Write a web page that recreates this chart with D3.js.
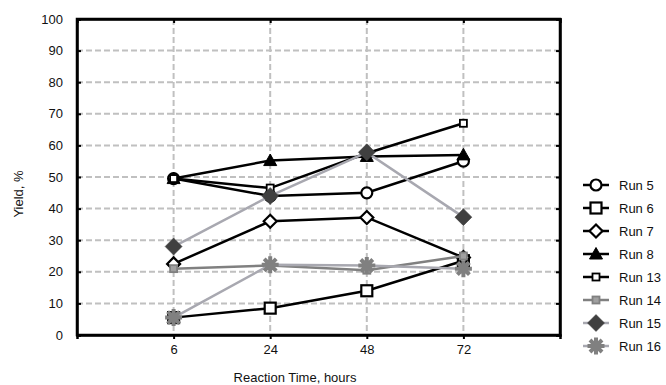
<!DOCTYPE html>
<html>
<head>
<meta charset="utf-8">
<script src="https://cdn.jsdelivr.net/npm/d3@7"></script>
<style>
  body { margin: 0; background: #fff; }
  text { font-family: "Liberation Sans", Arial, sans-serif; fill: #111; }
</style>
</head>
<body>
<div id="container"></div>
<script>
let w = 666;
let h = 385;

// data
let hours = ["6", "24", "48", "72"];
let run5  = [49.5, 44, 45, 55];
let run6  = [5.5, 8.5, 14, 23.5];
let run7  = [22.5, 36, 37.2, 24.5];
let run8  = [49.5, 55.2, 56.5, 57];
let run13 = [49.5, 46.5, 57.5, 67];
let run14 = [21, 22, 20.5, 25];
let run15 = [28, 44, 57.8, 37.3];
let run16 = [5.5, 22.2, 22, 21];
let yTicks = [0, 10, 20, 30, 40, 50, 60, 70, 80, 90, 100];

let series = [
  { name: "Run 5",  values: run5,  shape: "circle",   line: "#000", fill: "#fff", stroke: "#000" },
  { name: "Run 6",  values: run6,  shape: "square",   line: "#000", fill: "#fff", stroke: "#000" },
  { name: "Run 7",  values: run7,  shape: "diamond",  line: "#000", fill: "#fff", stroke: "#000" },
  { name: "Run 8",  values: run8,  shape: "triangle", line: "#000", fill: "#000", stroke: "#000" },
  { name: "Run 13", values: run13, shape: "small",    line: "#000", fill: "#fff", stroke: "#000" },
  { name: "Run 14", values: run14, shape: "small",    line: "#808080", fill: "#a0a0a0", stroke: "#808080" },
  { name: "Run 15", values: run15, shape: "bigdiamond", line: "#a8a8b0", fill: "#404040", stroke: "#404040" },
  { name: "Run 16", values: run16, shape: "star",     line: "#a8a8b0", fill: "#808080", stroke: "#808080" }
];

let viz = d3.select("#container")
  .append("svg")
    .attr("width", w)
    .attr("height", h)
;

let plotLeft = 77, plotRight = 560, plotTop = 19, plotBottom = 335;

let xScale = d3.scaleLinear().domain([0, hours.length + 1]).range([plotLeft, plotRight]);
let yScale = d3.scaleLinear().domain([0, 100]).range([plotBottom, plotTop]);

// grid
let grid = viz.append("g").attr("class", "grid");
grid.selectAll(".hgrid").data(yTicks.filter(d => d > 0 && d < 100)).enter()
  .append("line")
    .attr("x1", plotLeft).attr("x2", plotRight)
    .attr("y1", d => yScale(d)).attr("y2", d => yScale(d))
    .attr("stroke", "#c0c0c0")
    .attr("stroke-width", 2)
    .attr("stroke-dasharray", "6,3")
;
grid.selectAll(".vgrid").data(hours).enter()
  .append("line")
    .attr("x1", (d, i) => xScale(i + 1)).attr("x2", (d, i) => xScale(i + 1))
    .attr("y1", plotTop).attr("y2", plotBottom)
    .attr("stroke", "#c0c0c0")
    .attr("stroke-width", 2)
    .attr("stroke-dasharray", "6,3")
;

// axes
let yAxisGroup = viz.append("g").attr("class", "yaxis")
  .attr("transform", "translate(" + plotLeft + ",0)");
yAxisGroup.call(d3.axisLeft(yScale).tickValues(yTicks).tickSize(-4).tickPadding(14));

let yAxisRight = viz.append("g").attr("class", "yaxis2")
  .attr("transform", "translate(" + plotRight + ",0)");
yAxisRight.call(d3.axisRight(yScale).tickValues(yTicks).tickSize(-4).tickFormat(""));

let xAxisGroup = viz.append("g").attr("class", "xaxis")
  .attr("transform", "translate(0," + plotBottom + ")");
xAxisGroup.call(d3.axisBottom(xScale).tickValues([1, 2, 3, 4]).tickSize(4).tickPadding(6)
  .tickFormat(d => hours[d - 1]));

let xAxisTop = viz.append("g").attr("class", "xaxis2")
  .attr("transform", "translate(0," + plotTop + ")");
xAxisTop.call(d3.axisTop(xScale).tickValues([1, 2, 3, 4]).tickSize(-4).tickFormat(""));

viz.selectAll(".domain").attr("stroke", "#000").attr("stroke-width", 2.5);
viz.selectAll(".tick line").attr("stroke", "#000").attr("stroke-width", 2);
viz.selectAll(".tick text").style("font-size", "13px").attr("fill", "#111");

// frame, so corners close nicely
viz.append("rect")
  .attr("x", plotLeft).attr("y", plotTop)
  .attr("width", plotRight - plotLeft).attr("height", plotBottom - plotTop)
  .attr("fill", "none").attr("stroke", "#000").attr("stroke-width", 2.5);

// labels
viz.append("text")
  .attr("transform", "translate(23,194) rotate(-90)")
  .attr("text-anchor", "middle")
  .style("font-size", "13px")
  .text("Yield, %");

viz.append("text")
  .attr("x", 295).attr("y", 382)
  .attr("text-anchor", "middle")
  .style("font-size", "13px")
  .text("Reaction Time, hours");

// markers
function drawMarker(g, s) {
  if (s.shape === "circle") {
    g.append("circle").attr("r", 5.5).attr("fill", s.fill).attr("stroke", s.stroke).attr("stroke-width", 2.2);
  } else if (s.shape === "square") {
    g.append("rect").attr("x", -5.5).attr("y", -5.5).attr("width", 11).attr("height", 11)
      .attr("fill", s.fill).attr("stroke", s.stroke).attr("stroke-width", 2.2);
  } else if (s.shape === "diamond") {
    g.append("path").attr("d", "M0,-6.5L6.5,0L0,6.5L-6.5,0Z")
      .attr("fill", s.fill).attr("stroke", s.stroke).attr("stroke-width", 2.2);
  } else if (s.shape === "bigdiamond") {
    g.append("path").attr("d", "M0,-8.5L8.5,0L0,8.5L-8.5,0Z")
      .attr("fill", s.fill).attr("stroke", s.stroke).attr("stroke-width", 0.5);
  } else if (s.shape === "triangle") {
    g.append("path").attr("d", "M0,-6.5L6.5,5L-6.5,5Z")
      .attr("fill", s.fill).attr("stroke", s.stroke).attr("stroke-width", 1);
  } else if (s.shape === "small") {
    g.append("rect").attr("x", -3.5).attr("y", -3.5).attr("width", 7).attr("height", 7)
      .attr("fill", s.fill).attr("stroke", s.stroke).attr("stroke-width", 1.8);
  } else if (s.shape === "star") {
    let r = 8.5;
    let d = "";
    for (let k = 0; k < 4; k++) {
      let a = k * Math.PI / 4;
      d += "M" + (-r * Math.cos(a)) + "," + (-r * Math.sin(a)) + "L" + (r * Math.cos(a)) + "," + (r * Math.sin(a));
    }
    g.append("path").attr("d", d).attr("stroke", s.fill).attr("stroke-width", 4).attr("fill", "none");
    g.append("circle").attr("r", 4.5).attr("fill", s.fill);
  }
}

let line = d3.line()
  .x((d, i) => xScale(i + 1))
  .y(d => yScale(d));

let vizGroup = viz.append("g").attr("class", "vizGroup");

series.forEach(function(s){
  let grp = vizGroup.append("g").attr("class", "series");
  grp.append("path")
    .datum(s.values)
    .attr("d", line)
    .attr("fill", "none")
    .attr("stroke", s.line)
    .attr("stroke-width", 2.5);
  grp.selectAll(".pt").data(s.values).enter()
    .append("g")
      .attr("class", "pt")
      .attr("transform", (d, i) => "translate(" + xScale(i + 1) + "," + yScale(d) + ")")
      .each(function(){ drawMarker(d3.select(this), s); });
});

// legend
let legend = viz.append("g").attr("class", "legend");
let legendY = d3.scaleLinear().domain([0, 7]).range([185, 346]);
series.forEach(function(s, i){
  let lg = legend.append("g").attr("transform", "translate(596," + legendY(i) + ")");
  lg.append("line").attr("x1", -13).attr("x2", 13)
    .attr("stroke", s.line).attr("stroke-width", 2.5);
  drawMarker(lg, s);
  lg.append("text").attr("x", 23).attr("y", 4.5)
    .style("font-size", "13px")
    .text(s.name);
});
</script>
</body>
</html>
